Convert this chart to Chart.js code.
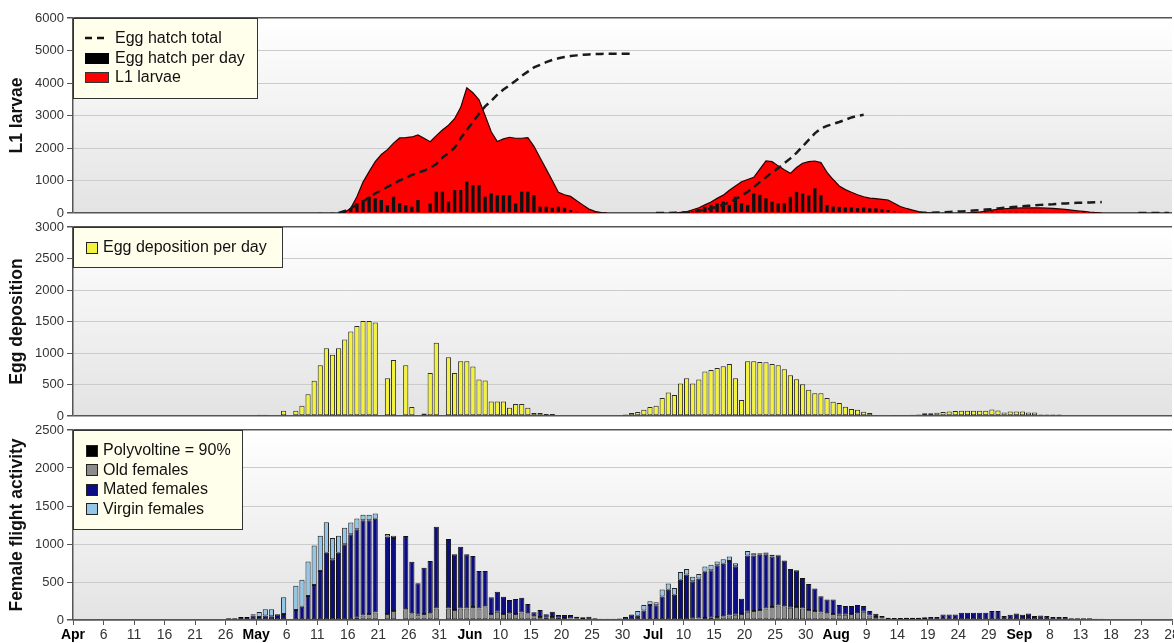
<!DOCTYPE html>
<html>
<head>
<meta charset="utf-8">
<script src="https://cdn.jsdelivr.net/npm/chart.js@4.4.1/dist/chart.umd.min.js"></script>
<style>
  html, body { margin: 0; padding: 0; background: #fff; }
  #wrap { position: relative; width: 1174px; height: 643px; overflow: hidden; }
  #wrap canvas { position: absolute; left: 0; }
</style>
</head>
<body>
<div id="wrap">
  <canvas id="larvae-chart" width="1174" height="222" style="top:0px"></canvas>
  <canvas id="eggs-chart" width="1174" height="208" style="top:218px"></canvas>
  <canvas id="flight-chart" width="1174" height="222" style="top:421px"></canvas>
</div>
<script>
// ===== DATA =====
// x axis: one slot per day, day 0 = 1 April, 180 days shown
const DAYS = 180;
const monthNames = ["Apr", "May", "Jun", "Jul", "Aug", "Sep"];
const monthLengths = [30, 31, 30, 31, 31, 30];

// L1 larvae (red area), pieces given as [first day, values]
const larvaeA = [43, [0, 20, 150, 500, 950, 1272, 1580, 1800, 1950, 2150, 2310, 2320, 2340, 2400, 2300, 2195, 2380, 2554, 2700, 2900, 3250, 3850, 3700, 3480, 3000, 2500, 2200, 2280, 2330, 2300, 2300, 2320, 2050, 1700, 1350, 1000, 640, 560, 510, 380, 250, 120, 50, 10, 0]];
const larvaeB = [98, [0, 20, 40, 100, 160, 250, 340, 450, 550, 700, 830, 960, 1030, 1100, 1350, 1600, 1580, 1450, 1330, 1220, 1400, 1530, 1580, 1600, 1550, 1250, 1030, 830, 720, 640, 560, 500, 460, 440, 420, 400, 300, 200, 140, 90, 40, 10, 0]];
const larvaeC = [146, [0, 10, 30, 60, 90, 110, 130, 140, 150, 155, 160, 160, 155, 150, 140, 125, 110, 90, 70, 50, 30, 15, 0]];

// Egg hatch per day (black bars)
const hatchA = [40, [15, null, 15, 25, 80, 150, 297, 400, 502, 451, 400, 246, 502, 297, 246, 195, 400, 20, 297, 656, 656, 348, 708, 708, 964, 862, 862, 502, 605, 554, 554, 554, 297, 656, 656, 554, 195, 195, 160, 195, 160, 90, 40, 20, 15, 10, 10]];
const hatchB = [101, [60, 120, 190, 250, 300, 350, 250, 500, 300, 250, 600, 560, 450, 350, 300, 300, 500, 650, 600, 550, 760, 550, 250, 200, 190, 170, 170, 150, 170, 145, 145, 120, 90, 60, 40, 20]];
const hatchC = [140, [10, 15, 20, 20, 25, 30, 30, 35, 40, 40, 45, 45, 40, 45, 40, 35, 35, 30, 30, 25, 25, 20, 20, 15, 15, 10, 10]];

// Egg hatch total (dashed line)
const totalA = [43, [0, 60, 150, 250, 350, 480, 600, 700, 800, 900, 1000, 1080, 1170, 1240, 1300, 1400, 1500, 1700, 1850, 2000, 2300, 2550, 2800, 3050, 3280, 3450, 3640, 3800, 3930, 4070, 4220, 4350, 4480, 4560, 4640, 4710, 4760, 4800, 4830, 4850, 4870, 4880, 4890, 4895, 4900, 4900, 4900, 4900, 4900]];
const totalB = [95, [0, 0, 0, 5, 10, 20, 40, 70, 100, 140, 190, 250, 330, 420, 530, 650, 800, 950, 1100, 1250, 1380, 1530, 1680, 1850, 2050, 2250, 2450, 2600, 2680, 2740, 2800, 2870, 2940, 2990, 3020]];
const totalC = [138, [0, 5, 10, 15, 20, 30, 40, 50, 60, 75, 90, 105, 120, 140, 160, 175, 190, 205, 220, 235, 250, 260, 270, 285, 295, 305, 315, 320, 325, 330, 335]];
const totalD = [174, [0, 0, 0, 0, 0, 0]];

// Egg deposition per day (yellow bars)
const eggsA = [30, [20, 20, null, null, 84, null, 84, 163, 347, 558, 805, 1074, 973, 1074, 1216, 1343, 1427, 1506, 1506, 1485, null, 600, 890, null, 805, 142, null, 41, 684, 1163, null, 932, 684, 869, 869, 784, 578, 562, 231, 231, 231, 131, 190, 190, 131, 47, 47, 30, 30]];
const eggsB = [90, [25, 47, 63, 100, 142, 163, 284, 374, 332, 516, 600, 516, 579, 705, 732, 763, 790, 826, 600, 252, 869, 869, 858, 853, 826, 806, 743, 648, 585, 505, 416, 363, 363, 284, 226, 205, 147, 110, 100, 68, 47, 15]];
const eggsC = [134, [15, 15, 15, 20, 25, 42, 42, 52, 63, 73, 78, 84, 84, 84, 84, 84, 105, 89, 57, 73, 73, 73, 57, 57, 25, 25, 25, 25]];

// Female flight activity (stacked bars)
const polyA = [25, [22, 22, 39, 39]];
const oldA = [46, [30, 60, 80, 100, null, 80, 120, null, 140, 90, 70, 80, 90, 150, null, 150, 130, 150, 150, 170, 150, 180, 80, 110, 80, 90, 80, 100, 90, 50, 40, 30, 40, 30, 25, 20, 15, 10, 10]];
const oldB = [100, [10, 15, 20, 25, 30, 40, 50, 60, 70, 80, 110, 120, 130, 150, 170, 190, 180, 160, 170, 150, 130, 120, 100, 90, 80, 70, 70, 80, 90, 110, 60, 40, 20]];
const matedA = [29, [60, 40, 60, 50, 75, 80, null, 130, 175, 316, 460, 645, 886, 798, 886, 996, 1127, 1163, 1251, 1231, 1233, null, 1020, 960, null, 965, 678, 412, 609, 686, 1078, null, 916, 734, 815, 714, 672, 495, 465, 218, 263, 227, 173, 196, 194, 121, 51, 92, 45, 70, 36, 41, 46, 29, 25, 34, 22, 15, 15, 15, 20]];
const matedB = [90, [39, 74, 57, 126, 198, 195, 310, 399, 332, 531, 590, 495, 525, 610, 626, 680, 690, 715, 638, 198, 739, 729, 729, 707, 667, 657, 603, 510, 483, 402, 344, 293, 213, 180, 190, 126, 113, 103, 106, 73, 57, 43, 32, 30]];
const matedC = [134, [25, 25, 30, 30, 30, 35, 40, 40, 74, 74, 74, 96, 96, 96, 96, 96, 117, 117, 52, 70, 87, 70, 87, 52, 60, 52, 39, 39, 39, 22, 22, 22, 22, 15, 15]];
const virginA = [29, [15, 65, 80, 90, null, 220, null, 320, 355, 454, 520, 465, 399, 282, 224, 219, 156, 142, 74, 74, 67, null, 30, 30]];
const virginB = [92, [60, 70, 50, 40, 90, 80, 90, 100, 70, 60, 60, 70, 70, 50, 60, 60, 40, null, 60, 30, 20, 30, 20, 10]];

// ===== HELPERS =====
function placeSeries(...parts) {
  const out = new Array(DAYS).fill(null);
  parts.forEach(([start, vals]) => {
    vals.forEach((v, i) => { out[start + i] = v; });
  });
  return out;
}

function dateOf(v) {
  let m = 0, d = Math.round(v);
  while (m < monthLengths.length - 1 && d >= monthLengths[m]) {
    d -= monthLengths[m];
    m++;
  }
  return { m, d: d + 1 };
}

function isMonthTick(v) {
  return dateOf(v).d <= 5;
}

function tickLabel(v) {
  const { m, d } = dateOf(v);
  return d <= 5 ? monthNames[m] : String(d);
}

// bar/point sits in the middle of its day slot
const dayPos = [];
for (let k = 0; k < DAYS; k++) dayPos.push(k + 0.5);

const FONT = 'Arial, "Liberation Sans", sans-serif';
Chart.defaults.font.family = FONT;

const plotBackground = {
  id: "plotBackground",
  beforeDraw(chart) {
    const { ctx, chartArea: a } = chart;
    const g = ctx.createLinearGradient(0, a.top, 0, a.bottom);
    g.addColorStop(0, "#ffffff");
    g.addColorStop(1, "#e3e3e3");
    ctx.save();
    ctx.fillStyle = g;
    ctx.fillRect(a.left, a.top, a.right - a.left, a.bottom - a.top);
    ctx.restore();
  },
};

function makeLegend(spec) {
  return {
    id: "panelLegend",
    afterDatasetsDraw(chart) {
      const { ctx, chartArea: a } = chart;
      const x0 = Math.round(a.left) + 0.5;
      const y0 = Math.round(a.top) + 0.5;
      ctx.save();
      ctx.fillStyle = "#ffffec";
      ctx.strokeStyle = "#333";
      ctx.lineWidth = 1;
      ctx.fillRect(x0, y0, spec.width, spec.height);
      ctx.strokeRect(x0, y0, spec.width, spec.height);
      ctx.font = "16px " + FONT;
      ctx.textBaseline = "middle";
      spec.items.forEach((it) => {
        const cy = a.top + it.row;
        if (it.kind === "dash") {
          ctx.strokeStyle = "#111";
          ctx.lineWidth = 2.5;
          ctx.setLineDash([7, 5]);
          ctx.beginPath();
          ctx.moveTo(a.left + spec.iconX, cy);
          ctx.lineTo(a.left + spec.iconX + 24, cy);
          ctx.stroke();
          ctx.setLineDash([]);
        } else {
          ctx.fillStyle = it.fill;
          ctx.strokeStyle = it.stroke;
          ctx.lineWidth = 1;
          const bx = Math.round(a.left + spec.iconX) + 0.5;
          const by = Math.round(cy - it.h / 2) + 0.5;
          ctx.fillRect(bx, by, it.w, it.h);
          ctx.strokeRect(bx, by, it.w, it.h);
        }
        ctx.fillStyle = "#111";
        ctx.fillText(it.label, a.left + spec.textX, cy + 1);
      });
      ctx.restore();
    },
  };
}

function yScale(title, max, step, stacked) {
  const edge = (c) => c.tick && (c.tick.value === 0 || c.tick.value === max);
  return {
    min: 0,
    max: max,
    stacked: !!stacked,
    ticks: {
      stepSize: step,
      color: "#333",
      font: { size: 13 },
      padding: 3,
      callback: (v) => String(v),
    },
    grid: {
      color: (c) => (edge(c) ? "#555" : "#cbcbcb"),
      lineWidth: (c) => (edge(c) ? 1.5 : 1),
      tickColor: "#555",
      tickLength: 6,
    },
    border: { color: "#555", width: 1.5 },
    title: {
      display: true,
      text: title,
      color: "#111",
      font: { size: 17.5, weight: "bold" },
      padding: { top: 7, bottom: 0 },
    },
    afterFit(s) {
      s.width = 73;
      s.paddingTop = 0;
      s.paddingBottom = 0;
    },
  };
}

function xScale(show) {
  return {
    type: "linear",
    min: 0,
    max: DAYS,
    offset: false,
    display: show,
    stacked: true,
    ticks: {
      stepSize: 5,
      autoSkip: false,
      maxRotation: 0,
      padding: 2,
      color: (c) => (c.tick && isMonthTick(c.tick.value) ? "#000" : "#333"),
      font: (c) => ({
        size: 14,
        weight: c.tick && isMonthTick(c.tick.value) ? "bold" : "normal",
      }),
      callback: (v) => tickLabel(v),
    },
    grid: { drawOnChartArea: false, offset: false, tickLength: 5, color: "#555" },
    border: { color: "#555", width: 1.5 },
    afterFit(s) {
      if (!show) return;
      s.height = 23;
      s.paddingLeft = 0;
      s.paddingRight = 0;
    },
  };
}

function baseOptions(padding, scales) {
  return {
    responsive: false,
    animation: false,
    events: [],
    layout: { padding: padding },
    plugins: { legend: { display: false }, tooltip: { enabled: false } },
    scales: scales,
  };
}

// ===== CHARTS =====
function initializeCharts() {
  // L1 larvae panel
  new Chart(document.getElementById("larvae-chart"), {
    type: "bar",
    data: {
      labels: dayPos,
      datasets: [
        {
          type: "line",
          label: "Egg hatch total",
          data: placeSeries(totalA, totalB, totalC, totalD),
          borderColor: "#1a1a1a",
          borderWidth: 2.5,
          borderDash: [8, 5],
          pointRadius: 0,
          tension: 0,
          fill: false,
          order: 0,
        },
        {
          type: "bar",
          label: "Egg hatch per day",
          data: placeSeries(hatchA, hatchB, hatchC),
          backgroundColor: "#111",
          borderWidth: 0,
          categoryPercentage: 1,
          barPercentage: 0.55,
          order: 1,
        },
        {
          type: "line",
          label: "L1 larvae",
          data: placeSeries(larvaeA, larvaeB, larvaeC),
          borderColor: "#2a0000",
          borderWidth: 1.2,
          backgroundColor: "#ff0000",
          fill: "origin",
          pointRadius: 0,
          tension: 0,
          order: 2,
        },
      ],
    },
    options: baseOptions(
      { top: 18, bottom: 9, left: 0, right: 2 },
      { x: xScale(false), y: yScale("L1 larvae", 6000, 1000) }
    ),
    plugins: [
      plotBackground,
      makeLegend({
        width: 184, height: 80, iconX: 12, textX: 42,
        items: [
          { kind: "dash", label: "Egg hatch total", row: 20 },
          { kind: "box", label: "Egg hatch per day", row: 39.5, w: 23, h: 10, fill: "#000", stroke: "#000" },
          { kind: "box", label: "L1 larvae", row: 59, w: 23, h: 10, fill: "#ff0000", stroke: "#333" },
        ],
      }),
    ],
  });

  // Egg deposition panel
  new Chart(document.getElementById("eggs-chart"), {
    type: "bar",
    data: {
      labels: dayPos,
      datasets: [
        {
          label: "Egg deposition per day",
          data: placeSeries(eggsA, eggsB, eggsC),
          backgroundColor: "#f3f33c",
          borderColor: "#2a2a2a",
          borderWidth: 1,
          borderSkipped: false,
          categoryPercentage: 1,
          barPercentage: 0.85,
        },
      ],
    },
    options: baseOptions(
      { top: 9, bottom: 10, left: 0, right: 2 },
      { x: xScale(false), y: yScale("Egg deposition", 3000, 500) }
    ),
    plugins: [
      plotBackground,
      makeLegend({
        width: 209, height: 40, iconX: 13, textX: 30,
        items: [
          { kind: "box", label: "Egg deposition per day", row: 20, w: 11, h: 11, fill: "#f3f33c", stroke: "#222" },
        ],
      }),
    ],
  });

  // Female flight activity panel
  const barStyle = { borderWidth: 1, borderSkipped: false, categoryPercentage: 1, barPercentage: 0.85, stack: "flight" };
  new Chart(document.getElementById("flight-chart"), {
    type: "bar",
    data: {
      labels: dayPos,
      datasets: [
        { ...barStyle, label: "Polyvoltine = 90%", data: placeSeries(polyA), backgroundColor: "#000", borderColor: "#000" },
        { ...barStyle, label: "Old females", data: placeSeries(oldA, oldB), backgroundColor: "#8c8c8c", borderColor: "#2a2a2a" },
        { ...barStyle, label: "Mated females", data: placeSeries(matedA, matedB, matedC), backgroundColor: "#0c0c84", borderColor: "#111" },
        { ...barStyle, label: "Virgin females", data: placeSeries(virginA, virginB), backgroundColor: "#92c7ea", borderColor: "#222" },
      ],
    },
    options: baseOptions(
      { top: 9, bottom: 0, left: 0, right: 2 },
      { x: xScale(true), y: yScale("Female flight activity", 2500, 500, true) }
    ),
    plugins: [
      plotBackground,
      makeLegend({
        width: 169, height: 99, iconX: 13, textX: 30,
        items: [
          { kind: "box", label: "Polyvoltine = 90%", row: 20, w: 11, h: 11, fill: "#000", stroke: "#222" },
          { kind: "box", label: "Old females", row: 39.5, w: 11, h: 11, fill: "#8c8c8c", stroke: "#222" },
          { kind: "box", label: "Mated females", row: 59, w: 11, h: 11, fill: "#0c0c84", stroke: "#222" },
          { kind: "box", label: "Virgin females", row: 78.5, w: 11, h: 11, fill: "#92c7ea", stroke: "#222" },
        ],
      }),
    ],
  });
}

initializeCharts();
</script>
</body>
</html>
